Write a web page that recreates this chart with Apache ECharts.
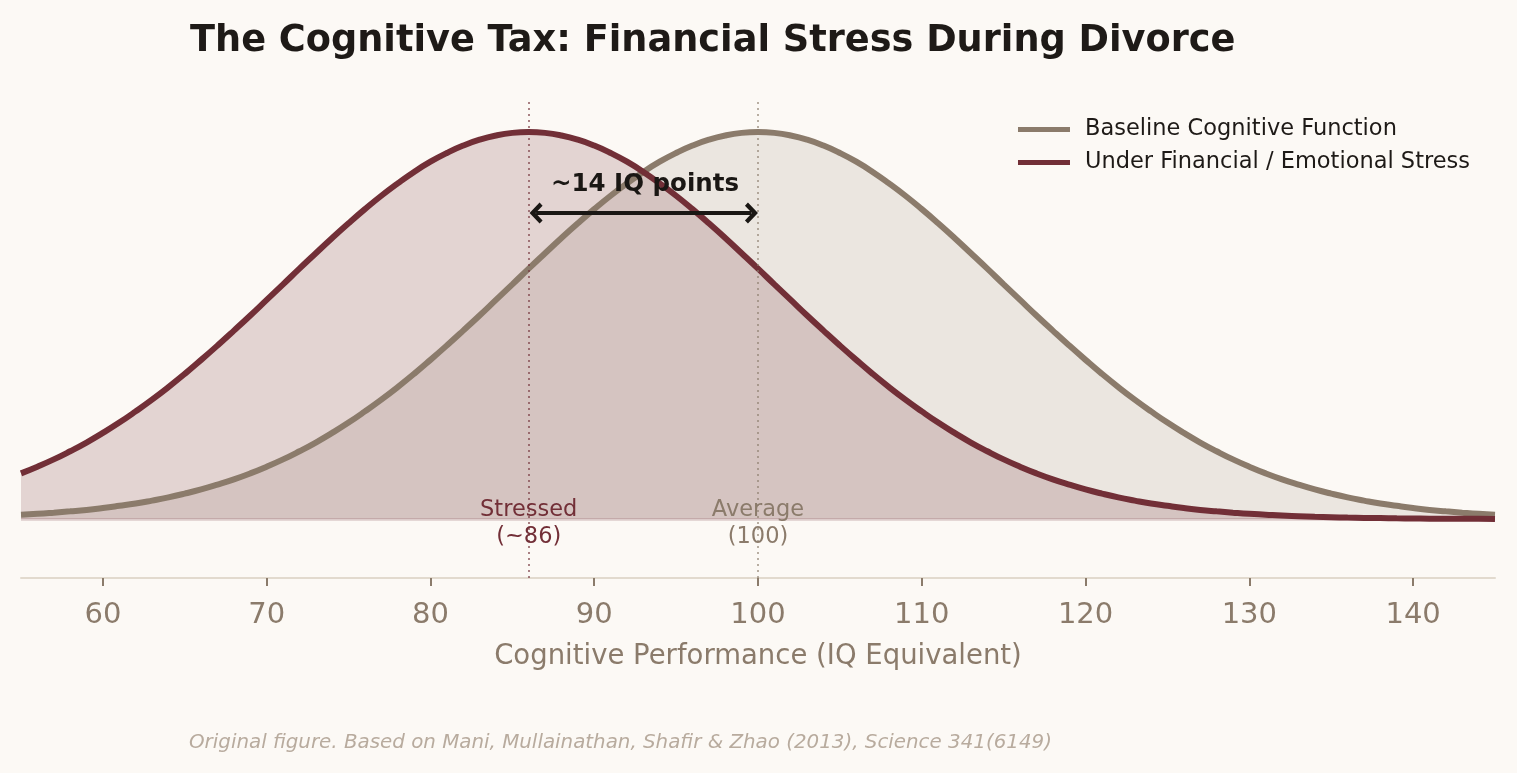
<!DOCTYPE html>
<html>
<head>
<meta charset="utf-8">
<script src="https://cdn.jsdelivr.net/npm/echarts@6/dist/echarts.min.js"></script>
<style>
  html, body { margin: 0; padding: 0; background: #FCF9F5; }
  #chart { width: 1517px; height: 773px; }
</style>
</head>
<body>
<div id="chart"></div>
<script>
// Cognitive performance grid (IQ equivalent), one point per IQ unit
var iqValues = [55, 56, 57, 58, 59, 60, 61, 62, 63, 64, 65, 66, 67, 68, 69, 70, 71, 72, 73, 74,
  75, 76, 77, 78, 79, 80, 81, 82, 83, 84, 85, 86, 87, 88, 89, 90, 91, 92, 93, 94, 95, 96, 97,
  98, 99, 100, 101, 102, 103, 104, 105, 106, 107, 108, 109, 110, 111, 112, 113, 114, 115, 116,
  117, 118, 119, 120, 121, 122, 123, 124, 125, 126, 127, 128, 129, 130, 131, 132, 133, 134,
  135, 136, 137, 138, 139, 140, 141, 142, 143, 144, 145];

// curve heights (density x100)
var baselineDensity = [0.030, 0.036, 0.044, 0.053, 0.063, 0.076, 0.091, 0.107, 0.127, 0.149,
  0.175, 0.204, 0.237, 0.273, 0.314, 0.360, 0.410, 0.466, 0.526, 0.592, 0.663, 0.740, 0.821,
  0.907, 0.998, 1.094, 1.193, 1.295, 1.399, 1.506, 1.613, 1.721, 1.827, 1.932, 2.033, 2.130,
  2.222, 2.307, 2.386, 2.456, 2.516, 2.567, 2.607, 2.636, 2.654, 2.660, 2.654, 2.636, 2.607,
  2.567, 2.516, 2.456, 2.386, 2.307, 2.222, 2.130, 2.033, 1.932, 1.827, 1.721, 1.613, 1.506,
  1.399, 1.295, 1.193, 1.094, 0.998, 0.907, 0.821, 0.740, 0.663, 0.592, 0.526, 0.466, 0.410,
  0.360, 0.314, 0.273, 0.237, 0.204, 0.175, 0.149, 0.127, 0.107, 0.091, 0.076, 0.063, 0.053,
  0.044, 0.036, 0.030];

var stressedDensity = [0.314, 0.360, 0.410, 0.466, 0.526, 0.592, 0.663, 0.740, 0.821, 0.907,
  0.998, 1.094, 1.193, 1.295, 1.399, 1.506, 1.613, 1.721, 1.827, 1.932, 2.033, 2.130, 2.222,
  2.307, 2.386, 2.456, 2.516, 2.567, 2.607, 2.636, 2.654, 2.660, 2.654, 2.636, 2.607, 2.567,
  2.516, 2.456, 2.386, 2.307, 2.222, 2.130, 2.033, 1.932, 1.827, 1.721, 1.613, 1.506, 1.399,
  1.295, 1.193, 1.094, 0.998, 0.907, 0.821, 0.740, 0.663, 0.592, 0.526, 0.466, 0.410, 0.360,
  0.314, 0.273, 0.237, 0.204, 0.175, 0.149, 0.127, 0.107, 0.091, 0.076, 0.063, 0.053, 0.044,
  0.036, 0.030, 0.024, 0.020, 0.016, 0.013, 0.010, 0.008, 0.007, 0.005, 0.004, 0.003, 0.003,
  0.002, 0.002, 0.001];

var xTicks = [60, 70, 80, 90, 100, 110, 120, 130, 140];

var seriesNames = ["Baseline Cognitive Function", "Under Financial / Emotional Stress"];
var stressedMean = 86;
var baselineMean = 100;
var gapArrow = [86.45, 99.6, 2.103];   // x from, x to, height
var gapLabel = [93.1, 2.30, "~14 IQ points"];
var meanLabelHeight = -0.03;

var WINE = "#722F37";
var TAUPE = "#8B7B6B";
var FONT = "DejaVu Sans, sans-serif";

function pairs(xs, ys) {
  return xs.map(function (x, i) { return [x, ys[i]]; });
}

// open chevron head, like an "<->" arrow
var chevron = "path://M0,10 L10,0 L20,10 L17,13 L10,6 L3,13 Z";

// shaded areas sit under both curves, so they get their own series
function fillSeries(name, values, color, z) {
  return {
    name: name,
    type: "line",
    data: pairs(iqValues, values),
    smooth: true,
    symbol: "none",
    silent: true,
    lineStyle: { width: 0 },
    areaStyle: { color: color, opacity: 1, origin: 0 },
    z: z
  };
}

var option = {
  backgroundColor: "#FCF9F5",
  animation: false,
  textStyle: { fontFamily: FONT },
  title: {
    text: "The Cognitive Tax: Financial Stress During Divorce",
    left: 185, top: 18,
    textStyle: { fontFamily: FONT, fontSize: 36.7, fontWeight: "bold", color: "#1E1A17" }
  },
  legend: {
    orient: "vertical",
    right: 42, top: 113,
    itemWidth: 52, itemHeight: 5, itemGap: 10,
    icon: "rect",
    textStyle: { fontFamily: FONT, fontSize: 22.5, color: "#1E1A17", padding: [0, 0, 0, 10] },
    data: seriesNames
  },
  grid: { left: 21, right: 22, top: 100, bottom: 195 },
  xAxis: {
    type: "value",
    min: 55, max: 145,
    name: "Cognitive Performance (IQ Equivalent)",
    nameLocation: "middle",
    nameGap: 65,
    nameTextStyle: { fontFamily: FONT, fontSize: 27.5, color: TAUPE },
    axisLine: { onZero: false, lineStyle: { color: "#E2DACE", width: 2 } },
    axisTick: { show: true, customValues: xTicks, length: 8, lineStyle: { color: TAUPE, width: 2 } },
    axisLabel: { customValues: xTicks, margin: 23, fontSize: 29, color: TAUPE, fontFamily: FONT },
    splitLine: { show: false }
  },
  yAxis: {
    type: "value",
    min: -0.405, max: 2.88,
    show: false,
    splitLine: { show: false }
  },
  series: [
    fillSeries("baselineFill", baselineDensity, "rgba(139,123,107,0.15)", 1),
    fillSeries("stressedFill", stressedDensity, "rgba(114,47,55,0.18)", 2),
    {
      name: seriesNames[0],
      type: "line",
      data: pairs(iqValues, baselineDensity),
      smooth: true,
      showSymbol: false,
      symbol: "none",
      lineStyle: { color: TAUPE, width: 6 },
      itemStyle: { color: TAUPE },
      z: 3,
      markLine: {
        silent: true,
        symbol: "none",
        label: { show: false },
        lineStyle: { color: "rgba(139,123,107,0.6)", type: [2, 4], width: 2 },
        data: [{ xAxis: baselineMean }]
      },
      markPoint: {
        symbol: "circle", symbolSize: 0,
        label: {
          show: true, fontSize: 22.5, color: TAUPE, lineHeight: 27,
          formatter: "Average\n(100)"
        },
        data: [{ coord: [baselineMean, meanLabelHeight] }]
      }
    },
    {
      name: seriesNames[1],
      type: "line",
      data: pairs(iqValues, stressedDensity),
      smooth: true,
      showSymbol: false,
      symbol: "none",
      lineStyle: { color: WINE, width: 6 },
      itemStyle: { color: WINE },
      z: 4,
      markLine: {
        silent: true,
        symbol: "none",
        label: { show: false },
        data: [
          { xAxis: stressedMean, lineStyle: { color: "rgba(114,47,55,0.6)", type: [2, 4], width: 2 } },
          { yAxis: 0, lineStyle: { color: "rgba(114,47,55,0.22)", type: "solid", width: 2.5 } },
          [
            { coord: [gapArrow[0], gapArrow[2]], symbol: chevron, symbolSize: [21, 13],
              lineStyle: { color: "#1A1714", type: "solid", width: 4 } },
            { coord: [gapArrow[1], gapArrow[2]], symbol: chevron, symbolSize: [21, 13] }
          ]
        ]
      },
      markPoint: {
        symbol: "circle", symbolSize: 0,
        data: [
          { coord: [stressedMean, meanLabelHeight],
            label: { show: true, fontSize: 22.5, color: WINE, lineHeight: 27, formatter: "Stressed\n(~86)" } },
          { coord: [gapLabel[0], gapLabel[1]],
            label: { show: true, fontSize: 24.5, fontWeight: "bold", color: "#1A1714", formatter: gapLabel[2] } }
        ]
      }
    }
  ],
  graphic: [
    {
      type: "text",
      left: 189, top: 733,
      style: {
        text: "Original figure. Based on Mani, Mullainathan, Shafir & Zhao (2013), Science 341(6149)",
        font: "italic 19.85px DejaVu Sans, sans-serif",
        fill: "#B8AB9E"
      }
    }
  ]
};

var chart = echarts.init(document.getElementById("chart"), null, { renderer: "canvas" });
chart.setOption(option);
</script>
</body>
</html>
